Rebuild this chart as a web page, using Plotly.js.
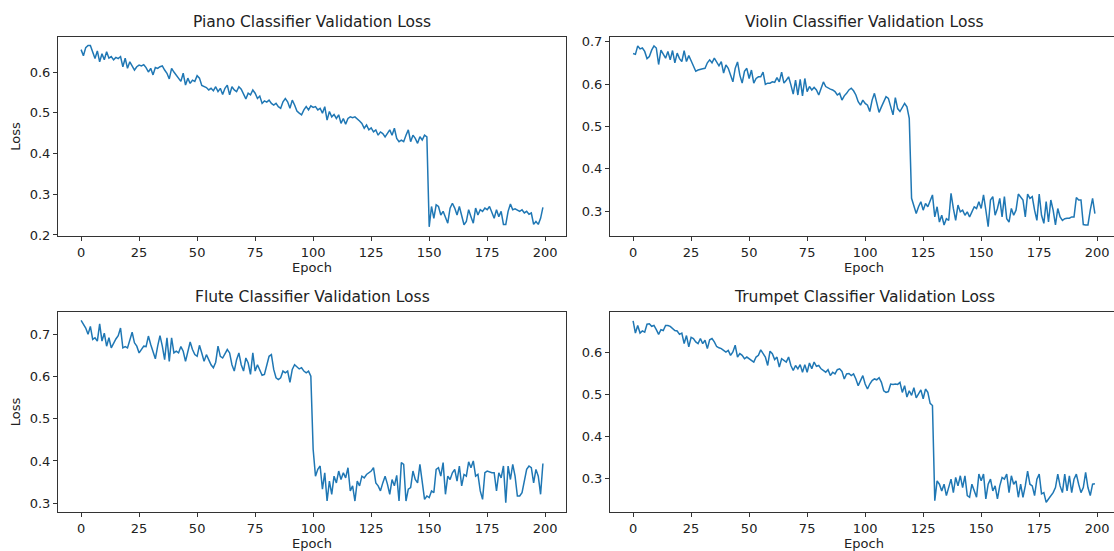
<!DOCTYPE html>
<html>
<head>
<meta charset="utf-8">
<script src="https://cdn.plot.ly/plotly-3.0.1.min.js"></script>
<style>
  html, body { margin: 0; padding: 0; background: #fff; overflow: hidden; }
  #chart { width: 1120px; height: 551px; }
</style>
</head>
<body>
<div id="chart"></div>
<script>
// Validation loss per epoch for four instrument classifiers (200 epochs each)
const epochs = Array.from({ length: 200 }, (_, i) => i);

const pianoLoss = [
  0.655, 0.640, 0.660, 0.665, 0.665, 0.650, 0.633, 0.652, 0.625, 0.645,
  0.630, 0.650, 0.634, 0.638, 0.630, 0.636, 0.633, 0.638, 0.613, 0.634,
  0.609, 0.625, 0.615, 0.605, 0.613, 0.617, 0.615, 0.618, 0.611, 0.600,
  0.609, 0.593, 0.611, 0.609, 0.613, 0.615, 0.605, 0.597, 0.583, 0.609,
  0.600, 0.593, 0.585, 0.577, 0.597, 0.568, 0.585, 0.572, 0.580, 0.577,
  0.591, 0.585, 0.567, 0.564, 0.562, 0.556, 0.560, 0.554, 0.564, 0.552,
  0.560, 0.545, 0.560, 0.568, 0.544, 0.564, 0.556, 0.552, 0.564, 0.558,
  0.544, 0.534, 0.548, 0.544, 0.556, 0.548, 0.535, 0.541, 0.523, 0.529,
  0.526, 0.531, 0.523, 0.519, 0.523, 0.515, 0.511, 0.527, 0.535, 0.527,
  0.511, 0.531, 0.519, 0.504, 0.499, 0.495, 0.507, 0.515, 0.507, 0.517,
  0.513, 0.515, 0.507, 0.511, 0.499, 0.515, 0.482, 0.503, 0.490, 0.496,
  0.486, 0.495, 0.474, 0.486, 0.472, 0.486, 0.490, 0.488, 0.490, 0.486,
  0.480, 0.474, 0.462, 0.470, 0.458, 0.463, 0.453, 0.458, 0.445, 0.453,
  0.449, 0.441, 0.449, 0.458, 0.445, 0.462, 0.437, 0.429, 0.433, 0.429,
  0.445, 0.458, 0.429, 0.445, 0.437, 0.425, 0.441, 0.433, 0.445, 0.441,
  0.220, 0.270, 0.241, 0.274, 0.270, 0.249, 0.258, 0.241, 0.229, 0.266,
  0.278, 0.266, 0.249, 0.270, 0.249, 0.225, 0.233, 0.262, 0.245, 0.229,
  0.266, 0.249, 0.262, 0.258, 0.266, 0.262, 0.270, 0.254, 0.241, 0.262,
  0.245, 0.258, 0.226, 0.226, 0.258, 0.276, 0.262, 0.264, 0.260, 0.258,
  0.262, 0.254, 0.258, 0.251, 0.254, 0.226, 0.233, 0.226, 0.241, 0.268
];

const violinLoss = [
  0.672, 0.670, 0.690, 0.683, 0.685, 0.677, 0.660, 0.665, 0.680, 0.690,
  0.685, 0.646, 0.680, 0.669, 0.661, 0.677, 0.657, 0.679, 0.650, 0.673,
  0.660, 0.653, 0.679, 0.653, 0.667, 0.655, 0.641, 0.630, 0.633, 0.635,
  0.636, 0.637, 0.650, 0.657, 0.650, 0.661, 0.653, 0.643, 0.653, 0.626,
  0.645, 0.637, 0.621, 0.605, 0.637, 0.652, 0.621, 0.602, 0.630, 0.637,
  0.613, 0.633, 0.602, 0.613, 0.617, 0.617, 0.628, 0.599, 0.602, 0.602,
  0.605, 0.604, 0.615, 0.605, 0.628, 0.602, 0.609, 0.617, 0.598, 0.576,
  0.609, 0.574, 0.611, 0.572, 0.613, 0.582, 0.594, 0.586, 0.592, 0.586,
  0.574, 0.590, 0.605, 0.594, 0.590, 0.588, 0.586, 0.582, 0.574, 0.578,
  0.562, 0.572, 0.578, 0.586, 0.590, 0.584, 0.574, 0.558, 0.550, 0.562,
  0.554, 0.550, 0.535, 0.562, 0.578, 0.558, 0.533, 0.546, 0.558, 0.570,
  0.566, 0.546, 0.527, 0.568, 0.542, 0.535, 0.546, 0.554, 0.546, 0.519,
  0.330, 0.314, 0.294, 0.310, 0.322, 0.302, 0.318, 0.310, 0.322, 0.338,
  0.286, 0.310, 0.274, 0.290, 0.267, 0.282, 0.278, 0.342, 0.306, 0.278,
  0.314, 0.298, 0.302, 0.290, 0.298, 0.286, 0.298, 0.310, 0.306, 0.322,
  0.306, 0.338, 0.302, 0.263, 0.326, 0.334, 0.290, 0.306, 0.330, 0.286,
  0.334, 0.282, 0.274, 0.306, 0.290, 0.302, 0.340, 0.334, 0.326, 0.286,
  0.340, 0.330, 0.334, 0.302, 0.278, 0.340, 0.290, 0.271, 0.322, 0.274,
  0.326, 0.302, 0.267, 0.306, 0.286, 0.278, 0.282, 0.283, 0.283, 0.286,
  0.286, 0.332, 0.326, 0.326, 0.268, 0.267, 0.267, 0.302, 0.330, 0.294
];

const fluteLoss = [
  0.733, 0.723, 0.715, 0.700, 0.719, 0.688, 0.692, 0.684, 0.725, 0.684,
  0.703, 0.672, 0.692, 0.668, 0.680, 0.689, 0.697, 0.715, 0.668, 0.671,
  0.668, 0.684, 0.705, 0.680, 0.672, 0.656, 0.664, 0.672, 0.671, 0.696,
  0.676, 0.660, 0.642, 0.672, 0.697, 0.672, 0.640, 0.692, 0.636, 0.692,
  0.656, 0.660, 0.656, 0.671, 0.660, 0.636, 0.656, 0.682, 0.664, 0.652,
  0.648, 0.674, 0.656, 0.636, 0.652, 0.640, 0.628, 0.621, 0.634, 0.672,
  0.648, 0.644, 0.656, 0.664, 0.656, 0.628, 0.613, 0.640, 0.656, 0.628,
  0.613, 0.644, 0.632, 0.605, 0.656, 0.613, 0.628, 0.617, 0.603, 0.605,
  0.628, 0.648, 0.652, 0.617, 0.597, 0.593, 0.597, 0.613, 0.609, 0.613,
  0.586, 0.617, 0.628, 0.624, 0.618, 0.621, 0.613, 0.609, 0.613, 0.601,
  0.427, 0.364, 0.380, 0.388, 0.333, 0.372, 0.305, 0.352, 0.321, 0.364,
  0.348, 0.376, 0.356, 0.372, 0.360, 0.384, 0.329, 0.341, 0.305, 0.352,
  0.341, 0.364, 0.360, 0.368, 0.372, 0.376, 0.384, 0.348, 0.341, 0.329,
  0.348, 0.364, 0.345, 0.321, 0.356, 0.341, 0.366, 0.305, 0.396, 0.392,
  0.305, 0.333, 0.337, 0.376, 0.356, 0.348, 0.392, 0.348, 0.309, 0.317,
  0.313, 0.329, 0.325, 0.380, 0.384, 0.364, 0.396, 0.321, 0.364, 0.356,
  0.372, 0.380, 0.352, 0.388, 0.341, 0.368, 0.364, 0.398, 0.384, 0.400,
  0.364, 0.368, 0.329, 0.309, 0.372, 0.376, 0.373, 0.372, 0.372, 0.329,
  0.372, 0.360, 0.388, 0.301, 0.388, 0.356, 0.392, 0.364, 0.317, 0.317,
  0.325, 0.356, 0.380, 0.388, 0.384, 0.348, 0.380, 0.364, 0.321, 0.394
];

const trumpetLoss = [
  0.675, 0.646, 0.664, 0.646, 0.651, 0.648, 0.667, 0.668, 0.662, 0.664,
  0.654, 0.643, 0.654, 0.652, 0.664, 0.664, 0.662, 0.656, 0.652, 0.651,
  0.643, 0.646, 0.621, 0.640, 0.613, 0.636, 0.633, 0.625, 0.621, 0.633,
  0.621, 0.629, 0.609, 0.630, 0.633, 0.625, 0.614, 0.611, 0.609, 0.605,
  0.601, 0.605, 0.593, 0.601, 0.617, 0.589, 0.597, 0.593, 0.585, 0.589,
  0.585, 0.581, 0.577, 0.589, 0.593, 0.606, 0.597, 0.589, 0.569, 0.603,
  0.597, 0.583, 0.589, 0.565, 0.585, 0.581, 0.577, 0.589, 0.569, 0.557,
  0.569, 0.561, 0.571, 0.553, 0.571, 0.553, 0.575, 0.561, 0.577, 0.567,
  0.569, 0.561, 0.557, 0.553, 0.559, 0.545, 0.553, 0.549, 0.559, 0.561,
  0.555, 0.537, 0.549, 0.550, 0.545, 0.549, 0.537, 0.521, 0.533, 0.545,
  0.525, 0.513, 0.525, 0.533, 0.537, 0.535, 0.540, 0.529, 0.509, 0.505,
  0.507, 0.525, 0.524, 0.525, 0.524, 0.529, 0.505, 0.521, 0.494, 0.509,
  0.498, 0.516, 0.492, 0.502, 0.511, 0.490, 0.513, 0.505, 0.479, 0.474,
  0.248, 0.295, 0.287, 0.271, 0.287, 0.260, 0.283, 0.299, 0.267, 0.303,
  0.283, 0.307, 0.279, 0.307, 0.260, 0.256, 0.287, 0.271, 0.256, 0.311,
  0.295, 0.311, 0.252, 0.287, 0.299, 0.271, 0.283, 0.252, 0.283, 0.303,
  0.299, 0.311, 0.267, 0.307, 0.287, 0.295, 0.256, 0.287, 0.256, 0.283,
  0.318, 0.287, 0.283, 0.260, 0.299, 0.311, 0.264, 0.267, 0.244, 0.252,
  0.260, 0.267, 0.279, 0.311, 0.283, 0.267, 0.311, 0.271, 0.307, 0.267,
  0.299, 0.311, 0.287, 0.267, 0.279, 0.315, 0.279, 0.260, 0.287, 0.288
];

const panelTitles = [
  'Piano Classifier Validation Loss',
  'Violin Classifier Validation Loss',
  'Flute Classifier Validation Loss',
  'Trumpet Classifier Validation Loss'
];
const xTicks = [0, 25, 50, 75, 100, 125, 150, 175, 200];

const FIG_W = 1120, FIG_H = 551;
const LINE_BLUE = '#1f77b4';
const TEXT = '#222222';
const FONT = 'DejaVu Sans, sans-serif';

// panel boxes in pixels: [left, right, top, bottom]
const boxes = [
  [58, 566, 37, 236],
  [610, 1118, 37, 236],
  [58, 566, 312, 512],
  [610, 1118, 312, 512]
];
const yRanges = [[0.1975, 0.686], [0.241, 0.711], [0.279, 0.753], [0.221, 0.696]];
const series = [pianoLoss, violinLoss, fluteLoss, trumpetLoss];

const traces = [];
const layout = {
  width: FIG_W,
  height: FIG_H,
  margin: { l: 0, r: 0, t: 0, b: 0, pad: 0 },
  paper_bgcolor: '#ffffff',
  plot_bgcolor: '#ffffff',
  showlegend: false,
  font: { family: FONT, color: TEXT, size: 13 },
  annotations: []
};

series.forEach((ys, i) => {
  const n = i + 1;
  const xa = n === 1 ? 'x' : 'x' + n;
  const ya = n === 1 ? 'y' : 'y' + n;
  traces.push({
    x: epochs,
    y: ys,
    xaxis: xa,
    yaxis: ya,
    type: 'scatter',
    mode: 'lines',
    line: { color: LINE_BLUE, width: 1.5 },
    hoverinfo: 'x+y'
  });

  const [l, r, t, b] = boxes[i];
  const common = {
    showline: true,
    mirror: true,
    linecolor: '#333333',
    linewidth: 1,
    showgrid: false,
    zeroline: false,
    ticks: 'outside',
    ticklen: 4,
    tickwidth: 1,
    tickcolor: '#333333',
    tickfont: { family: FONT, size: 13, color: TEXT }
  };
  layout['xaxis' + (n === 1 ? '' : n)] = Object.assign({}, common, {
    domain: [l / FIG_W, r / FIG_W],
    anchor: ya,
    range: [-9.95, 208.95],
    tickmode: 'array',
    tickvals: xTicks,
    ticktext: xTicks.map(String),
    title: { text: 'Epoch', font: { family: FONT, size: 13, color: TEXT }, standoff: 4 }
  });
  const yAxis = Object.assign({}, common, {
    domain: [1 - b / FIG_H, 1 - t / FIG_H],
    anchor: xa,
    range: yRanges[i],
    tickmode: 'linear',
    tick0: 0,
    dtick: 0.1,
    tickformat: '.1f'
  });
  if (i % 2 === 0) {
    yAxis.title = { text: 'Loss', font: { family: FONT, size: 13, color: TEXT }, standoff: 6 };
  }
  layout['yaxis' + (n === 1 ? '' : n)] = yAxis;

  layout.annotations.push({
    text: panelTitles[i],
    xref: 'paper',
    yref: 'paper',
    x: (l + r) / 2 / FIG_W,
    y: 1 - (t - 15) / FIG_H,
    xanchor: 'center',
    yanchor: 'middle',
    showarrow: false,
    font: { family: FONT, size: 15.5, color: TEXT }
  });
});

Plotly.newPlot('chart', traces, layout, { displayModeBar: false, staticPlot: true });
</script>
</body>
</html>
